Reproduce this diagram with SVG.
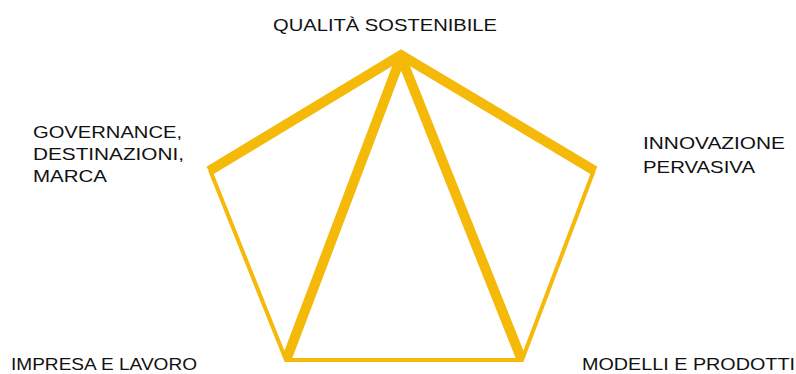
<svg xmlns="http://www.w3.org/2000/svg" width="796" height="374" viewBox="0 0 796 374">
<style>
.t{font-family:"Liberation Sans",Arial,sans-serif;font-size:17px;fill:#111}
.thick{fill:none;stroke:#F5B90A;stroke-width:10;stroke-linejoin:miter;stroke-linecap:butt}
.thin{fill:none;stroke:#F5B90A;stroke-width:4;stroke-linejoin:miter}
</style>
<rect width="796" height="374" fill="#fff"/>
<g id="connectors">
<polyline class="thin" points="210,170 286,360 522,360 594,170"/>
<polyline class="thick" points="209,171 401,55 595,171"/>
<polyline class="thick" style="stroke-linejoin:bevel" points="287,358 401,57 521,358"/>
</g>
<g id="node-top"><text class="t" x="273" y="31" textLength="224" lengthAdjust="spacingAndGlyphs">QUALITÀ SOSTENIBILE</text></g>
<g id="node-left">
<text class="t" x="33" y="138" textLength="149" lengthAdjust="spacingAndGlyphs">GOVERNANCE,</text>
<text class="t" x="33" y="160" textLength="151" lengthAdjust="spacingAndGlyphs">DESTINAZIONI,</text>
<text class="t" x="33" y="182" textLength="74" lengthAdjust="spacingAndGlyphs">MARCA</text>
</g>
<g id="node-right">
<text class="t" x="643" y="149" textLength="142" lengthAdjust="spacingAndGlyphs">INNOVAZIONE</text>
<text class="t" x="643" y="173" textLength="112" lengthAdjust="spacingAndGlyphs">PERVASIVA</text>
</g>
<g id="node-bl"><text class="t" x="11" y="370" textLength="186" lengthAdjust="spacingAndGlyphs">IMPRESA E LAVORO</text></g>
<g id="node-br"><text class="t" x="582" y="370" textLength="213" lengthAdjust="spacingAndGlyphs">MODELLI E PRODOTTI</text></g>
</svg>
